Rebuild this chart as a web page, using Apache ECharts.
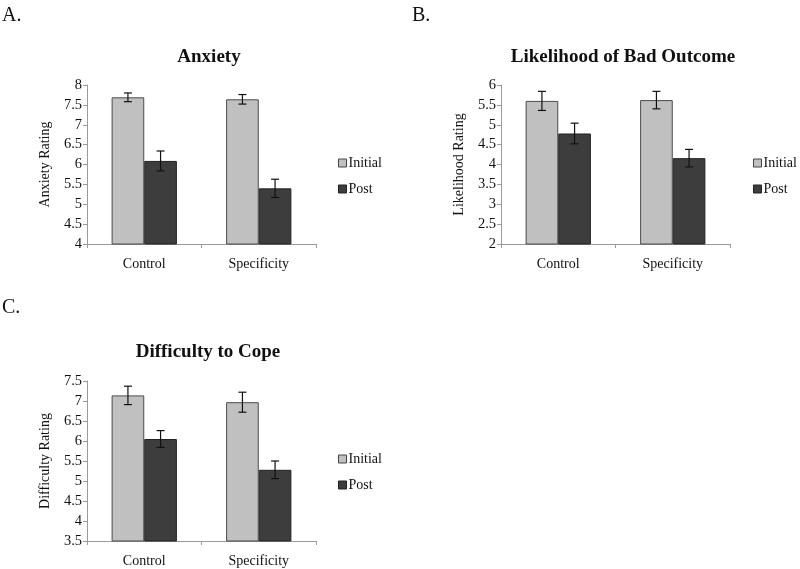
<!DOCTYPE html>
<html>
<head>
<meta charset="utf-8">
<script src="https://cdn.jsdelivr.net/npm/echarts@6/dist/echarts.min.js"></script>
<style>
html,body{margin:0;padding:0;background:#fff;}
#c{width:800px;height:569px;}
</style>
</head>
<body>
<div id="c"></div>
<script>
// ---- data ----
const categories = ['Control', 'Specificity'];
const seriesNames = ['Initial', 'Post'];

const anxietyInitial = [7.69, 7.64];
const anxietyInitialErr = [0.11, 0.12];
const anxietyPost = [6.09, 5.40];
const anxietyPostErr = [0.25, 0.23];

const likelihoodInitial = [5.60, 5.62];
const likelihoodInitialErr = [0.24, 0.22];
const likelihoodPost = [4.78, 4.16];
const likelihoodPostErr = [0.26, 0.22];

const difficultyInitial = [7.14, 6.97];
const difficultyInitialErr = [0.23, 0.25];
const difficultyPost = [6.05, 5.28];
const difficultyPostErr = [0.21, 0.22];

const panelTitles = ['Anxiety', 'Likelihood of Bad Outcome', 'Difficulty to Cope'];
const panelLetters = ['A.', 'B.', 'C.'];
const yAxisNames = ['Anxiety Rating', 'Likelihood Rating', 'Difficulty Rating'];
const yMin = [4, 2, 3.5];
const yMax = [8, 6, 7.5];
const yInterval = 0.5;

// ---- styling / layout ----
const FONT = '"Liberation Serif", "DejaVu Serif", serif';
const initialColor = '#c0c0c0';
const postColor = '#3d3d3d';
const gapFrac = 0.43;

const grids = [
  {left: 87, top: 85, width: 229, height: 159},
  {left: 501, top: 85, width: 229, height: 159},
  {left: 87, top: 381, width: 229, height: 160}
];
const titlePos = [
  {x: 209, y: 48},
  {x: 623, y: 48},
  {x: 208, y: 343}
];
const letterPos = [
  {x: 2, y: 6},
  {x: 412, y: 6},
  {x: 2, y: 298}
];
const legendPos = [
  {x: 338, y: 156},
  {x: 753, y: 156},
  {x: 338, y: 452}
];

const panels = [
  [anxietyInitial, anxietyInitialErr, anxietyPost, anxietyPostErr],
  [likelihoodInitial, likelihoodInitialErr, likelihoodPost, likelihoodPostErr],
  [difficultyInitial, difficultyInitialErr, difficultyPost, difficultyPostErr]
];

const axisLineColor = '#9a9a9a';

const option = {
  backgroundColor: '#fff',
  animation: false,
  textStyle: {fontFamily: FONT},
  title: [],
  legend: [],
  grid: [],
  xAxis: [],
  yAxis: [],
  series: []
};

function errRender(params, api) {
  const cat = api.value(0);
  const lo = api.value(1);
  const hi = api.value(2);
  const side = api.value(3);
  const band = api.size([1, 0])[0];
  const barW = band * (1 - gapFrac) / 2;
  const p1 = api.coord([cat, hi]);
  const p2 = api.coord([cat, lo]);
  const x = p1[0] + side * barW / 2;
  const cap = 4;
  const st = {stroke: '#111', lineWidth: 1.2};
  return {
    type: 'group',
    children: [
      {type: 'line', shape: {x1: x, y1: p1[1], x2: x, y2: p2[1]}, style: st},
      {type: 'line', shape: {x1: x - cap, y1: p1[1], x2: x + cap, y2: p1[1]}, style: st},
      {type: 'line', shape: {x1: x - cap, y1: p2[1], x2: x + cap, y2: p2[1]}, style: st}
    ]
  };
}

panels.forEach((p, i) => {
  const [ini, iniErr, post, postErr] = p;
  option.title.push({
    text: panelTitles[i], left: titlePos[i].x, top: titlePos[i].y, textAlign: 'center', padding: 0,
    textStyle: {fontFamily: FONT, fontSize: 19, fontWeight: 'bold', color: '#111'}
  });
  option.title.push({
    text: panelLetters[i], left: letterPos[i].x, top: letterPos[i].y, padding: 0,
    textStyle: {fontFamily: FONT, fontSize: 20, fontWeight: 'normal', color: '#111'}
  });
  option.legend.push({
    orient: 'vertical', left: legendPos[i].x, top: legendPos[i].y, padding: 0,
    itemWidth: 8, itemHeight: 8, itemGap: 12,
    icon: 'rect',
    data: [
      {name: 'Initial', itemStyle: {color: initialColor, borderColor: '#444', borderWidth: 1}},
      {name: 'Post', itemStyle: {color: postColor, borderColor: '#222', borderWidth: 1}}
    ],
    selectedMode: false,
    textStyle: {fontFamily: FONT, fontSize: 14, color: '#111', padding: [0, 0, 0, -3]}
  });
  option.grid.push(grids[i]);
  option.xAxis.push({
    type: 'category', gridIndex: i, data: categories,
    axisLine: {lineStyle: {color: axisLineColor, width: 1}},
    axisTick: {show: true, length: 4, inside: false, lineStyle: {color: axisLineColor}},
    axisLabel: {fontFamily: FONT, fontSize: 14, color: '#111', margin: 13},
    splitLine: {show: false}
  });
  option.yAxis.push({
    type: 'value', gridIndex: i, min: yMin[i], max: yMax[i], interval: yInterval,
    name: yAxisNames[i], nameLocation: 'middle', nameRotate: 90, nameGap: 35,
    nameTextStyle: {fontFamily: FONT, fontSize: 14, color: '#111'},
    axisLine: {show: true, lineStyle: {color: axisLineColor, width: 1}},
    axisTick: {show: true, length: 4, lineStyle: {color: axisLineColor}},
    axisLabel: {fontFamily: FONT, fontSize: 14.5, color: '#111', margin: 5},
    splitLine: {show: false}
  });
  option.series.push({
    name: 'Initial', type: 'bar', xAxisIndex: i, yAxisIndex: i, data: ini,
    barGap: '0%', barCategoryGap: (gapFrac * 100) + '%',
    itemStyle: {color: initialColor, borderColor: '#4a4a4a', borderWidth: 1}
  });
  option.series.push({
    name: 'Post', type: 'bar', xAxisIndex: i, yAxisIndex: i, data: post,
    barGap: '0%', barCategoryGap: (gapFrac * 100) + '%',
    itemStyle: {color: postColor, borderColor: '#222', borderWidth: 1}
  });
  const errData = [];
  categories.forEach((c, k) => {
    errData.push([k, ini[k] - iniErr[k], ini[k] + iniErr[k], -1]);
    errData.push([k, post[k] - postErr[k], post[k] + postErr[k], 1]);
  });
  option.series.push({
    name: 'err' + i, type: 'custom', xAxisIndex: i, yAxisIndex: i,
    renderItem: errRender, data: errData, z: 10,
    encode: {x: 0, y: [1, 2]}, silent: true
  });
});

const chart = echarts.init(document.getElementById('c'), null, {renderer: 'canvas'});
chart.setOption(option);
</script>
</body>
</html>
